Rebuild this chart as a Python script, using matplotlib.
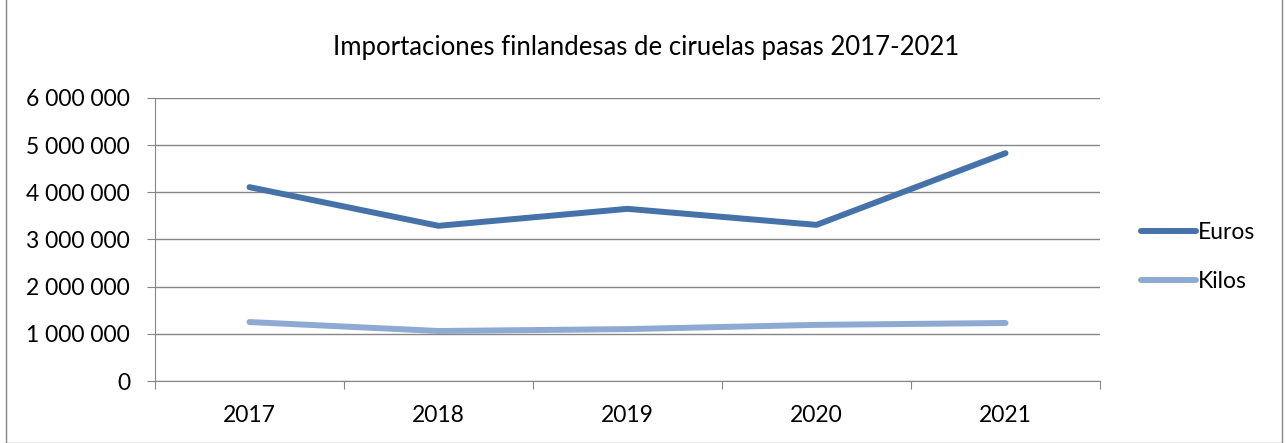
import matplotlib
matplotlib.use("Agg")
from matplotlib import pyplot as plt
from matplotlib.patches import Rectangle
from matplotlib.ticker import FuncFormatter, FixedLocator

plt.rcParams['font.family'] = ['Lato', 'DejaVu Sans']

years = ["2017", "2018", "2019", "2020", "2021"]
euros = [4110000, 3290000, 3650000, 3310000, 4830000]
kilos = [1250000, 1060000, 1100000, 1190000, 1230000]

fig = plt.figure(figsize=(12.86, 4.43), dpi=100)
ax = fig.add_axes([155/1286, 62/443, 945/1286, 283/443])

x = list(range(len(years)))
ax.plot(x, euros, color='#4672AA', lw=4.3, solid_capstyle='round', solid_joinstyle='round', label="Euros")
ax.plot(x, kilos, color='#8FAAD2', lw=4.3, solid_capstyle='round', solid_joinstyle='round', label="Kilos")

ax.set_xlim(-0.5, 4.5)
ax.set_ylim(0, 6000000)
ax.set_yticks(range(0, 6000001, 1000000))
ax.yaxis.set_major_formatter(FuncFormatter(lambda v, p: "{:,}".format(int(v)).replace(",", " ")))
ax.xaxis.set_major_locator(FixedLocator([i - 0.5 for i in range(6)]))
ax.xaxis.set_minor_locator(FixedLocator(x))
ax.set_xticklabels([])
ax.set_xticklabels(years, minor=True)

ax.tick_params(axis='y', length=6, color='#868686', pad=12, labelsize=16.5, labelcolor='black')
ax.tick_params(axis='x', which='major', length=6, color='#868686')
ax.tick_params(axis='x', which='minor', length=0, pad=17, labelsize=16.5, labelcolor='black')

ax.grid(axis='y', color='#868686', lw=1)
ax.set_axisbelow(True)
for s in ['top', 'right']:
    ax.spines[s].set_visible(False)
for s in ['left', 'bottom']:
    ax.spines[s].set_color('#868686')

fig.text(646/1286, 1 - 48/443, "Importaciones finlandesas de ciruelas pasas 2017-2021",
         ha='center', va='center', fontsize=18.5, color='black')

fig.legend(loc='center left', bbox_to_anchor=(1120/1286, 1 - 257/443), frameon=False,
           fontsize=16.5, handlelength=2.4, handletextpad=0.1, labelspacing=1.25)

fig.add_artist(Rectangle((6/1286, 0), 1276/1286, 1.2, transform=fig.transFigure,
                         fill=False, edgecolor='#868686', lw=1))

fig.savefig("out.png", dpi=100)
